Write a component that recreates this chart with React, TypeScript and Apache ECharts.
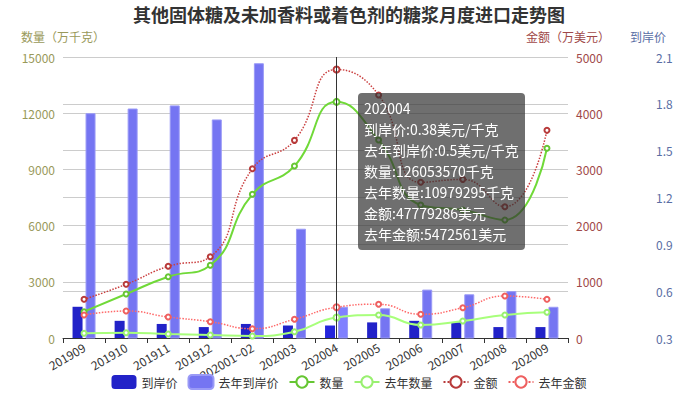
import React, { useEffect, useRef } from "react";
import * as echarts from "echarts";

const categories = ["201909", "201910", "201911", "201912", "202001~02", "202003", "202004", "202005", "202006", "202007", "202008", "202009"];
// 到岸价 (美元/千克)
const price = [0.5, 0.41, 0.39, 0.37, 0.39, 0.38, 0.38, 0.4, 0.41, 0.4, 0.37, 0.37];
const lastPrice = [1.74, 1.77, 1.79, 1.7, 2.06, 1.0, 0.5, 0.49, 0.61, 0.58, 0.6, 0.5];
// 数量 (万千克)
const qty = [1404, 2349, 3272, 3881, 7671, 9181, 12605.357, 10570, 7100, 6830, 6300, 10126];
const lastQty = [251, 283, 214, 160, 107, 336, 1097.9295, 1228, 694, 907, 1228, 1372];
// 金额 (万美元)
const amount = [688, 955, 1276, 1446, 3012, 3517, 4777.9286, 4323, 2770, 2823, 2336, 3695];
const lastAmount = [409, 480, 374, 290, 165, 333, 547.2561, 600, 422, 539, 747, 688];

const leftTicks = { min: 0, max: 15000, interval: 3000 };
const midTicks = { min: 0, max: 5000, interval: 1000 };
const priceTicks = { min: 0.3, max: 2.1, interval: 0.3 };

const FONT = "'Noto Sans CJK SC', 'Noto Sans', sans-serif";

export default function App() {
  const ref = useRef<HTMLDivElement>(null);
  useEffect(() => {
    if (!ref.current) return;
    document.body.style.margin = "0";
    const chart = echarts.init(ref.current, undefined, { renderer: "svg" });
    const units = ["美元/千克", "美元/千克", "千克", "千克", "美元", "美元"];
    const plain = (v: number) => String(v);
    const option: any = {
      animation: false,
      textStyle: { fontFamily: FONT },
      title: {
        text: "其他固体糖及未加香料或着色剂的糖浆月度进口走势图",
        left: "center",
        top: 0,
        padding: [4, 5, 5, 5],
        textStyle: { fontSize: 18, lineHeight: 20, fontWeight: "bold", color: "#333", fontFamily: FONT },
      },
      tooltip: {
        trigger: "axis",
        alwaysShowContent: true,
        transitionDuration: 0,
        backgroundColor: "rgba(50,50,50,0.7)",
        borderWidth: 0,
        padding: [5, 6],
        textStyle: { color: "#fff", fontSize: 14, fontFamily: FONT },
        extraCssText: "line-height:21px;border-radius:4px;box-shadow:none;",
        axisPointer: { type: "line", lineStyle: { color: "#333", width: 1, type: "solid" } },
        position: (pt: number[]) => [pt[0] + 21, 93],
        formatter: (params: any[]) => {
          let s = params[0].axisValue;
          params.forEach((p: any) => {
            const i = p.seriesIndex;
            const v = i < 2 ? p.value : Math.round(p.value * 10000);
            s += "<br/>" + p.seriesName + ":" + v + units[i];
          });
          return s;
        },
      },
      legend: {
        bottom: 1,
        itemGap: 10,
        textStyle: { color: "#333", fontSize: 12 },
        data: ["到岸价", "去年到岸价", "数量", "去年数量", "金额", "去年金额"],
      },
      grid: { left: 63, right: 130, top: 57, bottom: 58, containLabel: false, outerBoundsMode: "none" },
      xAxis: {
        type: "category",
        data: categories,
        boundaryGap: true,
        axisLine: { lineStyle: { color: "#333" } },
        axisTick: { show: true },
        axisLabel: { rotate: 30, color: "#333", fontSize: 12, interval: 0, margin: 8 },
      },
      yAxis: [
        {
          type: "value",
          name: "数量（万千克）",
          nameGap: 15,
          nameTextStyle: { color: "#99995a", fontSize: 12 },
          ...leftTicks,
          position: "left",
          axisLine: { show: false },
          axisTick: { show: false },
          axisLabel: { color: "#99995a", fontSize: 12, formatter: plain },
          splitLine: { lineStyle: { color: "#ccc" } },
        },
        {
          type: "value",
          name: "金额（万美元）",
          nameGap: 15,
          nameTextStyle: { color: "#a04848", fontSize: 12 },
          ...midTicks,
          position: "right",
          axisLine: { show: false },
          axisTick: { show: false },
          axisLabel: { color: "#a04848", fontSize: 12, formatter: plain },
          splitLine: { lineStyle: { color: "#ccc" } },
        },
        {
          type: "value",
          name: "到岸价",
          nameGap: 15,
          nameTextStyle: { color: "#5a6ea4", fontSize: 12 },
          ...priceTicks,
          position: "right",
          offset: 80,
          axisLine: { show: false },
          axisTick: { show: false },
          axisLabel: { color: "#5a6ea4", fontSize: 12, formatter: (v: number) => String(Math.round(v * 10) / 10) },
          splitLine: { lineStyle: { color: "#ccc" } },
        },
      ],
      series: [
        {
          name: "到岸价",
          type: "bar",
          yAxisIndex: 2,
          data: price,
          barWidth: 10,
          barGap: "30%",
          itemStyle: { color: "#2222c8" },
        },
        {
          name: "去年到岸价",
          type: "bar",
          yAxisIndex: 2,
          data: lastPrice,
          barWidth: 10,
          itemStyle: { color: "#7575f2", borderColor: "#9a9af6", borderWidth: 1 },
        },
        {
          name: "数量",
          type: "line",
          yAxisIndex: 0,
          data: qty,
          smooth: true,
          symbol: "emptyCircle",
          symbolSize: 5,
          itemStyle: { color: "#66c633" },
          lineStyle: { color: "#66c633", width: 2 },
        },
        {
          name: "去年数量",
          type: "line",
          yAxisIndex: 0,
          data: lastQty,
          smooth: true,
          symbol: "emptyCircle",
          symbolSize: 5,
          itemStyle: { color: "#99f070" },
          lineStyle: { color: "#99f070", width: 2 },
        },
        {
          name: "金额",
          type: "line",
          yAxisIndex: 1,
          data: amount,
          smooth: true,
          symbol: "emptyCircle",
          symbolSize: 5,
          itemStyle: { color: "#b83a3a" },
          lineStyle: { color: "#b83a3a", width: 1.5, type: "dotted" },
        },
        {
          name: "去年金额",
          type: "line",
          yAxisIndex: 1,
          data: lastAmount,
          smooth: true,
          symbol: "emptyCircle",
          symbolSize: 5,
          itemStyle: { color: "#ee6060" },
          lineStyle: { color: "#ee6060", width: 1.5, type: "dotted" },
        },
      ],
    };
    chart.setOption(option);
    chart.dispatchAction({ type: "showTip", seriesIndex: 2, dataIndex: 6 });
    return () => chart.dispose();
  }, []);
  return <div ref={ref} style={{ width: 698, height: 396, background: "#fff" }} />;
}
